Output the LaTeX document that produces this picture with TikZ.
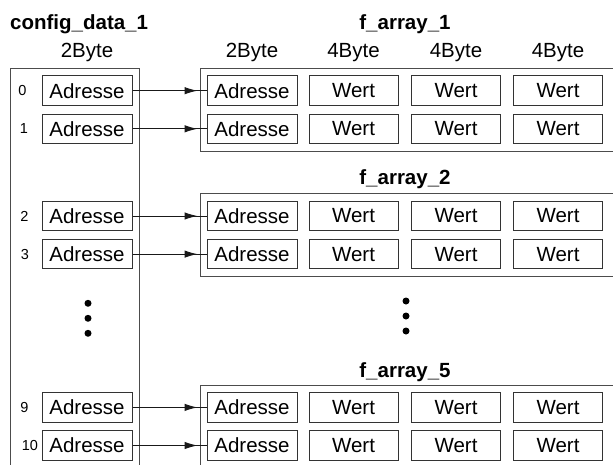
\documentclass[tikz,border=0pt]{standalone}
\usepackage{fontspec}
\setmainfont{Liberation Sans}
\usetikzlibrary{arrows.meta}
\begin{document}
\begin{tikzpicture}[x=1pt,y=-1pt,
  cell/.style={draw=black!80, line width=1pt, minimum width=90pt, minimum height=29.5pt, inner sep=0pt, font=\fontsize{20.5}{24}\selectfont},
  wcell/.style={cell, minimum width=89pt},
  frame/.style={draw=black!70, line width=1pt, inner sep=0pt, anchor=north west},
  title/.style={font=\fontsize{20.5}{24}\selectfont\bfseries, anchor=base, inner sep=0pt},
  hdr/.style={font=\fontsize{20.5}{24}\selectfont, anchor=base, inner sep=0pt},
  idx/.style={font=\fontsize{14.5}{16}\selectfont, inner sep=0pt},
  link/.style={line width=1pt, draw=black!90},
  linkhead/.style={link, -{Latex[length=13pt,width=7.5pt]}, shorten >=9pt},
  dot/.style={circle, fill=black, inner sep=0pt, minimum size=7pt}
]
\useasboundingbox (0,0) rectangle (613,464);
\begin{scope}
\clip (0,0) rectangle (613,464);

% titles and headers
\node[title, anchor=base west] (tcfg) at (10,29.5) {config\_data\_1};
\node[title] (tf1) at (405,29.5) {f\_array\_1};
\node[title] (tf2) at (405,184.5) {f\_array\_2};
\node[title] (tf5) at (405,377) {f\_array\_5};

\node[hdr] (h0) at (87,57) {2Byte};
\node[hdr] (h1) at (252,57) {2Byte};
\node[hdr] (h2) at (353.5,57) {4Byte};
\node[hdr] (h3) at (456,57) {4Byte};
\node[hdr] (h4) at (558,57) {4Byte};

% frames
\node[frame, minimum width=129pt, minimum height=430pt] (cfg) at (10,68) {};
\node[frame, minimum width=430pt, minimum height=82.5pt] (fa1) at (200,68) {};
\node[frame, minimum width=430pt, minimum height=82.5pt] (fa2) at (200,193.3) {};
\node[frame, minimum width=430pt, minimum height=82.5pt] (fa5) at (200,384.7) {};

% rows
\foreach \n/\y in {0/90.7, 1/128.8, 2/216, 3/254.1, 9/407.4, 10/445.5}{
  \node[cell] (l\n) at (87,\y) {Adresse};
  \node[cell] (a\n) at (252,\y) {Adresse};
  \node[wcell] (w\n a) at (353.5,\y) {Wert};
  \node[wcell] (w\n b) at (456,\y) {Wert};
  \node[wcell] (w\n c) at (558,\y) {Wert};
  \draw[link] (l\n.east) -- (a\n.west);
  \draw[linkhead] (l\n.east) -- (a\n.west);
}
\node[idx] (i0) at (22.5,90.7) {0};
\node[idx] (i1) at (24,128.8) {1};
\node[idx] (i2) at (24.5,216) {2};
\node[idx] (i3) at (25,254.1) {3};
\node[idx] (i9) at (24.5,407.4) {9};
\node[idx] (i10) at (30,445.5) {10};

% ellipsis dots
\node[dot] (ld1) at (88,303.3) {};
\node[dot] (ld2) at (88,318.3) {};
\node[dot] (ld3) at (88,333.3) {};
\node[dot] (rd1) at (406,301) {};
\node[dot] (rd2) at (406,316) {};
\node[dot] (rd3) at (406,331) {};
\end{scope}
\end{tikzpicture}
\end{document}
